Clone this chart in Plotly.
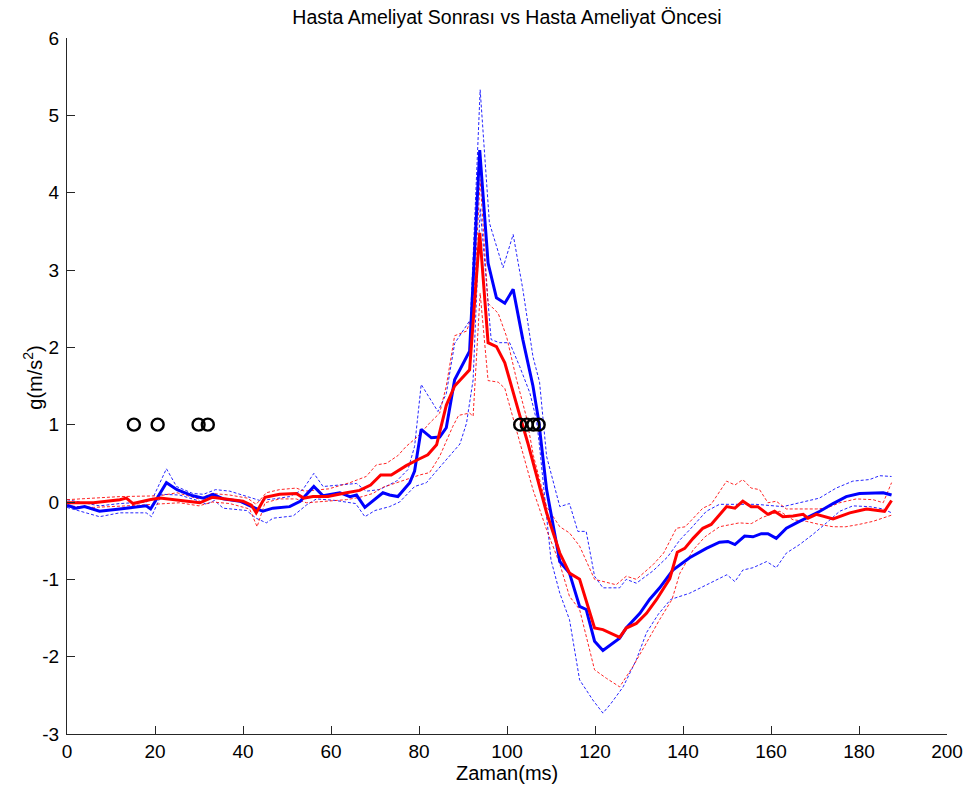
import plotly.graph_objects as go

# ---- data ----
t_blue_mean = [0, 2, 4, 7.4, 12, 15, 18, 19, 22.6, 25, 28.6, 31, 33.2, 35.5, 39.3, 42, 44.5, 46.8, 50.6, 53, 56.1, 58.2, 62, 64.3, 65.8, 67.7, 70, 71.8, 73.3, 75.2, 77.9, 79, 80.5, 82.8, 84.7, 86.2, 88.1, 91.5, 93.8, 95.7, 97.6, 99.5, 101.4, 103.6, 105.9, 107.2, 109, 112, 114.2, 116.5, 118, 119.9, 121.8, 125.6, 127.1, 128.6, 130.2, 132.4, 134.7, 137.7, 141.5, 145.3, 148.3, 150.2, 151.8, 154, 155.9, 157.8, 159.3, 161.2, 163.5, 165.8, 168, 171.1, 174.1, 177.1, 180.1, 183.2, 185.5, 187.4]
blue_mean = [-0.04, -0.08, -0.06, -0.12, -0.09, -0.07, -0.05, -0.09, 0.25, 0.16, 0.08, 0.05, 0.1, 0.04, 0.01, -0.06, -0.12, -0.08, -0.06, 0.01, 0.2, 0.08, 0.12, 0.07, 0.09, -0.07, 0.03, 0.12, 0.09, 0.07, 0.25, 0.4, 0.94, 0.83, 0.84, 0.96, 1.58, 1.95, 4.55, 3.09, 2.64, 2.57, 2.75, 2.1, 1.5, 1.05, 0.16, -0.77, -0.92, -1.35, -1.39, -1.8, -1.92, -1.76, -1.63, -1.54, -1.44, -1.26, -1.11, -0.88, -0.72, -0.6, -0.52, -0.51, -0.55, -0.44, -0.45, -0.41, -0.41, -0.47, -0.34, -0.27, -0.21, -0.12, -0.02, 0.07, 0.11, 0.12, 0.12, 0.09]

t_blue_up = [0, 7.4, 12, 18, 19.5, 22.6, 24.9, 28.6, 31, 33.8, 37, 40.8, 43.8, 47, 50.6, 53.6, 56.1, 58.2, 62, 65.8, 68, 71, 74.9, 77.5, 79, 80.5, 84.3, 86.2, 88.1, 91.7, 93.9, 96, 99.1, 101.4, 103.6, 105.9, 107.4, 109, 112, 114.2, 116.1, 118, 119.9, 121.8, 125.6, 127.1, 129.4, 133.2, 136.5, 139.3, 141.5, 145.3, 148.3, 152.8, 156.6, 162.7, 166.5, 171, 174.8, 178.6, 182.4, 184.7, 187.4]
blue_up = [0.03, -0.05, -0.02, 0.0, 0.05, 0.43, 0.2, 0.11, 0.1, 0.16, 0.14, 0.07, 0.02, 0.04, 0.07, 0.16, 0.37, 0.2, 0.22, 0.24, 0.14, 0.16, 0.27, 0.42, 0.72, 1.52, 1.17, 1.4, 2.05, 2.36, 5.33, 3.61, 3.03, 3.46, 2.75, 1.88, 1.55, 0.59, -0.06, -0.02, -0.38, -0.38, -0.96, -1.11, -1.11, -1.0, -1.05, -0.89, -0.71, -0.49, -0.36, -0.12, -0.03, -0.03, -0.03, -0.06, -0.01, 0.05, 0.18, 0.27, 0.29, 0.34, 0.33]

t_blue_lo = [0, 2, 7.4, 12, 18, 19.2, 21.5, 25.6, 30.2, 31.7, 33.5, 35.5, 40.8, 43, 45.3, 46.8, 51.4, 54.4, 56.7, 61, 65.6, 67.7, 70, 73.3, 75.6, 79, 81.7, 83.2, 86.2, 89.3, 90.8, 92.3, 93.9, 96.4, 98.3, 100.6, 102.9, 105.2, 106.7, 107.4, 110, 112, 114.2, 116.5, 119.5, 121.8, 123.7, 126.4, 129.4, 131.7, 134.4, 137.2, 141.5, 145.3, 150, 151.8, 153.6, 155.9, 159, 161.2, 163.5, 166.5, 169.5, 172.6, 175.6, 178.6, 182.4, 185.5, 187.4]
blue_lo = [-0.07, -0.1, -0.19, -0.14, -0.14, -0.19, 0.1, 0.09, 0.01, -0.03, 0.02, -0.08, -0.11, -0.21, -0.27, -0.21, -0.18, -0.04, 0.04, 0.02, -0.02, -0.19, -0.11, -0.06, 0.0, 0.2, 0.25, 0.35, 0.55, 0.75, 1.02, 1.58, 3.8, 2.1, 2.06, 2.06, 1.75, 1.41, 1.06, 0.72, -0.75, -1.18, -1.52, -2.3, -2.56, -2.73, -2.6, -2.39, -2.04, -1.69, -1.45, -1.26, -1.18, -1.07, -0.94, -1.03, -0.88, -0.85, -0.77, -0.85, -0.66, -0.55, -0.42, -0.27, -0.12, -0.05, -0.06, -0.09, -0.14]

t_red_mean = [0, 6, 12, 13.5, 15, 18.8, 21.1, 24.1, 27.1, 30.2, 33, 36.2, 40, 41.9, 43, 45, 48.3, 52.1, 53.8, 55.9, 59.3, 63.5, 66.5, 69, 71.3, 73.7, 77.1, 79.8, 82, 84, 86.2, 88.1, 91.5, 93.8, 95.7, 97.6, 99.5, 102.9, 104.8, 109, 112, 114.2, 116.5, 119.9, 121.8, 125.6, 127.1, 129.4, 131.7, 134, 137, 138.7, 140.4, 142.3, 144.5, 146.4, 148.3, 149.9, 151.8, 153.6, 155.5, 157, 159.3, 160.8, 162.7, 165, 167.3, 168.4, 170.3, 174.1, 177.9, 181.7, 185.8, 187.4]
red_mean = [-0.01, -0.01, 0.03, 0.05, -0.02, 0.03, 0.05, 0.03, 0.01, -0.01, 0.06, 0.04, 0.01, -0.04, -0.14, 0.06, 0.1, 0.11, 0.05, 0.07, 0.07, 0.12, 0.15, 0.22, 0.35, 0.35, 0.47, 0.55, 0.61, 0.74, 1.25, 1.5, 1.71, 3.48, 2.06, 2.01, 1.8, 1.12, 0.75, -0.14, -0.66, -0.92, -1.0, -1.63, -1.65, -1.75, -1.63, -1.57, -1.44, -1.26, -0.99, -0.65, -0.6, -0.47, -0.34, -0.29, -0.16, -0.06, -0.08, 0.01, -0.06, -0.06, -0.16, -0.12, -0.19, -0.18, -0.16, -0.21, -0.16, -0.22, -0.14, -0.09, -0.12, 0.02]

t_red_up = [0, 6, 12, 21, 25, 30, 33, 37, 41, 43, 45.3, 48.3, 52.1, 54, 59.5, 64.3, 68, 70.3, 72.6, 75.2, 77.1, 79.8, 82.4, 84.7, 86.2, 88.1, 90.8, 92.3, 93.9, 95.7, 98, 99.9, 102.1, 104.4, 106, 109, 112, 114.2, 116.5, 119.9, 121.8, 124.8, 127.1, 129.4, 133.2, 135.6, 138.5, 140.5, 144.5, 146.4, 149.9, 151.8, 153.6, 155.5, 157.4, 159.3, 161.2, 163.5, 170.3, 172.6, 175.6, 179.4, 183.2, 185.5, 187.4]
red_up = [0.03, 0.05, 0.07, 0.08, 0.12, 0.04, 0.11, 0.09, 0.05, -0.03, 0.12, 0.16, 0.18, 0.14, 0.17, 0.25, 0.33, 0.48, 0.5, 0.6, 0.72, 0.85, 1.02, 1.15, 1.5, 2.15, 2.21, 2.44, 4.17, 2.57, 2.44, 2.14, 1.6, 1.1, 0.6, -0.06, -0.32, -0.4, -0.57, -1.0, -1.03, -1.07, -0.96, -1.0, -0.81, -0.66, -0.34, -0.32, -0.08, -0.03, 0.27, 0.22, 0.29, 0.18, 0.16, -0.01, 0.01, -0.09, -0.09, -0.08, -0.01, 0.04, 0.03, -0.01, 0.25]

t_red_lo = [0, 6, 13.5, 21, 25.6, 30, 33, 37, 41.5, 43.2, 45, 48.3, 52.1, 54.4, 59.7, 63.5, 66.5, 69.5, 71.8, 74.9, 77.1, 80.2, 82.4, 84.7, 87.7, 89, 91.5, 92.3, 93.9, 95.7, 98, 99.5, 102.1, 105.9, 109, 112, 114.2, 116.5, 119.9, 122.6, 125.6, 128.6, 131.7, 134.7, 137.5, 139.3, 142.3, 145, 148.3, 152.8, 155.5, 158, 162, 165, 168, 171, 174.1, 177, 180, 183.2, 187.4]
red_lo = [-0.05, -0.07, -0.05, -0.03, -0.01, -0.05, 0.0, -0.02, -0.09, -0.32, -0.01, 0.04, 0.04, -0.01, 0.01, 0.03, 0.06, 0.11, 0.19, 0.25, 0.29, 0.35, 0.38, 0.59, 0.98, 1.12, 1.15, 1.11, 2.7, 1.57, 1.55, 1.47, 0.94, 0.16, -0.36, -0.8, -1.22, -1.39, -2.17, -2.28, -2.39, -2.13, -1.82, -1.52, -1.26, -0.92, -0.62, -0.45, -0.32, -0.27, -0.28, -0.2, -0.12, -0.23, -0.25, -0.29, -0.32, -0.32, -0.29, -0.25, -0.17]

marker_t = [15.2, 20.6, 29.9, 32.0, 103.0, 104.5, 106.0, 107.2]
marker_y = [1, 1, 1, 1, 1, 1, 1, 1]

x_ticks = [0, 20, 40, 60, 80, 100, 120, 140, 160, 180, 200]
x_ticktext = ["0", "20", "40", "60", "80", "100", "120", "140", "160", "180", "200"]
y_ticks = [-3, -2, -1, 0, 1, 2, 3, 4, 5, 6]
y_ticktext = ["-3", "-2", "-1", "0", "1", "2", "3", "4", "5", "6"]

title_text = "Hasta Ameliyat Sonrası vs Hasta Ameliyat Öncesi"
x_label = "Zaman(ms)"
y_label = "g(m/s<sup>2</sup>)"

BLUE = "#0000ff"
RED = "#ff0000"
FONT = "Liberation Sans, Arial, sans-serif"
AXC = "#262626"

fig = go.Figure()
dash = "3px,2px"
for tx, ty, col in [(t_blue_up, blue_up, BLUE), (t_blue_lo, blue_lo, BLUE),
                    (t_red_up, red_up, RED), (t_red_lo, red_lo, RED)]:
    fig.add_trace(go.Scatter(x=tx, y=ty, mode="lines",
                             line=dict(color=col, width=1, dash=dash),
                             opacity=0.85, showlegend=False, hoverinfo="skip"))
fig.add_trace(go.Scatter(x=t_blue_mean, y=blue_mean, mode="lines",
                         line=dict(color=BLUE, width=3), showlegend=False))
fig.add_trace(go.Scatter(x=t_red_mean, y=red_mean, mode="lines",
                         line=dict(color=RED, width=3), showlegend=False))
fig.add_trace(go.Scatter(x=marker_t, y=marker_y, mode="markers",
                         marker=dict(symbol="circle-open", size=12, color="black",
                                     line=dict(color="black", width=2.4)),
                         showlegend=False))

axis_common = dict(showgrid=False, zeroline=False, showline=True, linecolor=AXC,
                   linewidth=1, ticks="inside", ticklen=8, tickcolor=AXC,
                   tickfont=dict(family=FONT, size=19, color="black"),
                   mirror=False, automargin=False)

fig.update_layout(
    width=973, height=792,
    paper_bgcolor="white", plot_bgcolor="white",
    margin=dict(l=67, r=26, t=38, b=58),
    font=dict(family=FONT, color="black"),
    title=dict(text=title_text, x=0.521, xanchor="center", y=0.9785, yanchor="middle",
               font=dict(family=FONT, size=19.5, color="black")),
    xaxis=dict(range=[0, 200], tickmode="array", tickvals=x_ticks, ticktext=x_ticktext,
               **axis_common),
    yaxis=dict(range=[-3, 6], tickmode="array", tickvals=y_ticks, ticktext=y_ticktext,
               ticklabelstandoff=3, **axis_common),
    annotations=[
        dict(text=x_label, xref="paper", yref="paper", x=0.5, y=-0.0561,
             xanchor="center", yanchor="middle", showarrow=False,
             font=dict(family=FONT, size=20, color="black")),
        dict(text=y_label, xref="paper", yref="paper", x=-0.0386, y=0.512,
             xanchor="center", yanchor="middle", textangle=-90, showarrow=False,
             font=dict(family=FONT, size=20, color="black")),
    ],
)

# remove the default 8px page margin so the figure fills the 973x792 window
fig.write_html("out.html", config={"displayModeBar": False},
               post_script="document.body.style.margin='0';")
